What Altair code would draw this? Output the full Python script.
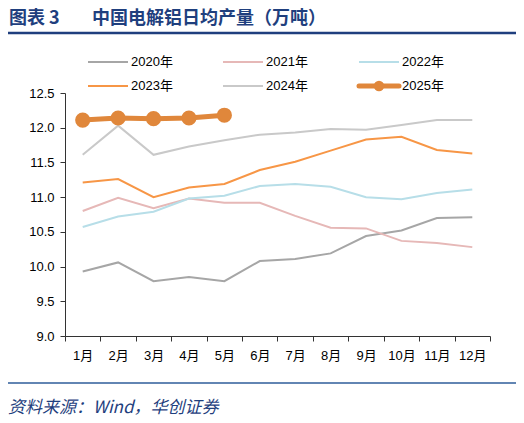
import altair as alt
import pandas as pd

months = ["1月", "2月", "3月", "4月", "5月", "6月", "7月", "8月", "9月", "10月", "11月", "12月"]
series_names = ["2020年", "2021年", "2022年", "2023年", "2024年", "2025年"]
colors = ["#A6A6A6", "#E6B8B7", "#B7DEE8", "#F79646", "#C9C9C9", "#E0873B"]

v2020 = [9.93, 10.06, 9.79, 9.85, 9.79, 10.08, 10.11, 10.19, 10.44, 10.52, 10.70, 10.71]
v2021 = [10.80, 10.99, 10.84, 10.98, 10.92, 10.92, 10.73, 10.56, 10.55, 10.37, 10.34, 10.28]
v2022 = [10.57, 10.72, 10.79, 10.98, 11.02, 11.16, 11.19, 11.15, 11.00, 10.97, 11.06, 11.11]
v2023 = [11.21, 11.26, 11.00, 11.14, 11.19, 11.39, 11.51, 11.67, 11.83, 11.87, 11.68, 11.63]
v2024 = [11.61, 12.03, 11.61, 11.73, 11.82, 11.90, 11.93, 11.98, 11.97, 12.04, 12.11, 12.11]
v2025 = [12.11, 12.14, 12.13, 12.14, 12.18]

y_ticks = [9.0, 9.5, 10.0, 10.5, 11.0, 11.5, 12.0, 12.5]

title_label = "图表 3"
title_text = "中国电解铝日均产量（万吨）"
source_text = "资料来源：Wind，华创证券"

FONT = "Liberation Sans, Noto Sans CJK SC, sans-serif"
CJK = "Noto Sans CJK SC"
BLUE = "#1F3F7E"

rows = []
for name, vals in zip(series_names[:5], [v2020, v2021, v2022, v2023, v2024]):
    for m, v in zip(months, vals):
        rows.append({"month": m, "value": v, "series": name})
df = pd.DataFrame(rows)
df25 = pd.DataFrame({"month": months[:5], "value": v2025, "series": "2025年"})

W, H = 425, 243

x_enc = alt.X("month:N", sort=months,
              scale=alt.Scale(domain=months, paddingInner=0, paddingOuter=0),
              axis=alt.Axis(title=None, tickBand="extent", labelAngle=0, labelFont=FONT,
                            labelFontSize=13, labelColor="#000", domainColor="#333",
                            tickColor="#333", tickSize=5, labelPadding=8, grid=False))
y_enc = alt.Y("value:Q",
              scale=alt.Scale(domain=[9.0, 12.5], nice=False, zero=False),
              axis=alt.Axis(title=None, values=y_ticks, format=".1f", labelFont=FONT,
                            labelFontSize=13, labelColor="#000", domainColor="#333",
                            tickColor="#333", tickSize=5, labelPadding=6, grid=False,
                            labelOverlap=False, labelFlush=False))
color_scale = alt.Scale(domain=series_names, range=colors)

lines = alt.Chart(df).mark_line(strokeWidth=2).encode(
    x=x_enc, y=y_enc,
    color=alt.Color("series:N", scale=color_scale, legend=None),
)

line25 = alt.Chart(df25).mark_line(strokeWidth=5, color=colors[5]).encode(x=x_enc, y=y_enc)
pts25 = alt.Chart(df25).mark_point(filled=True, size=230, color=colors[5], opacity=1).encode(
    x=x_enc, y=y_enc)

# legend (layout only)
leg = pd.DataFrame({
    "series": series_names,
    "lx": [23, 158, 294, 23, 158, 294],
    "ly": [-31, -31, -31, -7, -7, -7],
})
leg["lx2"] = leg["lx"] + 40
leg["tx"] = leg["lx"] + 43
leg["mx"] = leg["lx"] + 20
lxe = alt.X("lx:Q", scale=None, axis=None)
lye = alt.Y("ly:Q", scale=None, axis=None)
leg_rules = alt.Chart(leg).transform_filter("datum.series != '2025年'").mark_rule(strokeWidth=2).encode(
    x=lxe, x2="lx2:Q", y=lye,
    color=alt.Color("series:N", scale=color_scale, legend=None))
leg_rule25 = alt.Chart(leg).transform_filter("datum.series == '2025年'").mark_rule(
    strokeWidth=5, color=colors[5], strokeCap="round").encode(x=lxe, x2="lx2:Q", y=lye)
leg_pt25 = alt.Chart(leg).transform_filter("datum.series == '2025年'").mark_point(
    filled=True, size=110, color=colors[5], opacity=1).encode(
    x=alt.X("mx:Q", scale=None, axis=None), y=lye)
leg_text = alt.Chart(leg).mark_text(align="left", baseline="middle", font=FONT, fontSize=13,
                                    color="#000").encode(
    x=alt.X("tx:Q", scale=None, axis=None), y=lye, text="series:N")

one = pd.DataFrame({"a": [0]})
title1 = alt.Chart(one).mark_text(text=title_label, align="left", baseline="middle", font=CJK,
                                  fontSize=18, fontWeight="bold", color=BLUE).encode(
    x=alt.value(-56), y=alt.value(-74))
title2 = alt.Chart(one).mark_text(text=title_text, align="left", baseline="middle", font=CJK,
                                  fontSize=18, fontWeight="bold", color=BLUE).encode(
    x=alt.value(27), y=alt.value(-74))
top_rule = alt.Chart(one).mark_rule(color=BLUE, strokeWidth=2.5).encode(
    x=alt.value(-60), x2=alt.value(452), y=alt.value(-60))
bot_rule = alt.Chart(one).mark_rule(color="#2E5C9A", strokeWidth=1.5).encode(
    x=alt.value(-60), x2=alt.value(452), y=alt.value(290))
source = alt.Chart(one).mark_text(text=source_text, align="left", baseline="middle", font=CJK,
                                  fontSize=17, fontStyle="italic", color=BLUE).encode(
    x=alt.value(-57), y=alt.value(315))

chart = alt.layer(
    lines, line25, pts25, leg_rules, leg_rule25, leg_pt25, leg_text,
    title1, title2, top_rule, bot_rule, source
).properties(
    width=W, height=H,
    background="white",
    autosize=alt.AutoSizeParams(type="none"),
    padding={"left": 57, "top": 85, "right": 26, "bottom": 92},
).configure_view(strokeWidth=0, stroke="transparent")

chart.save("out.html", embed_options={"renderer": "svg", "actions": False})
